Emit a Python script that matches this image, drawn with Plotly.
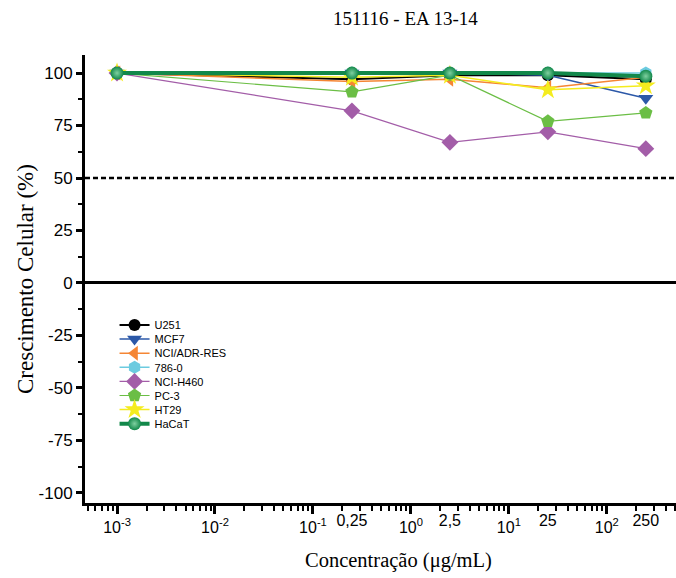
import plotly.graph_objects as go

conc = [0.001, 0.25, 2.5, 25, 250]

series_names = ["U251", "MCF7", "NCI/ADR-RES", "786-0", "NCI-H460", "PC-3", "HT29", "HaCaT"]
u251 = [100, 97, 99, 99, 97]
mcf7 = [100, 100, 100, 99, 88]
nci_adr = [100, 96, 97, 93, 98]
c786 = [100, 100, 100, 100, 100]
nci_h460 = [100, 82, 67, 72, 64]
pc3 = [100, 91, 99, 77, 81]
ht29 = [100, 98, 99, 92, 94]
hacat = [100, 100, 100, 100, 98.5]

major_x_vals = [0.001, 0.01, 0.1, 1, 10, 100]
major_x_text = ["10<sup>-3</sup>", "10<sup>-2</sup>", "10<sup>-1</sup>", "10<sup>0</sup>", "10<sup>1</sup>", "10<sup>2</sup>"]
conc_labels = ["0,25", "2,5", "25", "250"]
conc_label_vals = [0.25, 2.5, 25, 250]
minor_x_vals = [m * d for d in [0.0001, 0.001, 0.01, 0.1, 1, 10, 100] for m in range(2, 10)]

y_tickvals = [100, 75, 50, 25, 0, -25, -50, -75, -100]
y_ticktext = ["100", "75", "50", "25", "0", "-25", "-50", "-75", "-100"]
threshold = 50

values = [u251, mcf7, nci_adr, c786, nci_h460, pc3, ht29, hacat]
colors = ["#000000", "#2B58A8", "#F58634", "#6CCBE0", "#A35DA8", "#6BBE45", "#F4EC1E", "#12884A"]
symbols = ["circle", "triangle-down", "triangle-left", "hexagon", "diamond", "pentagon", "star", "circle"]
widths = [2, 1.5, 1.5, 1.5, 1.2, 1.2, 1.5, 4]
sizes = [12, 13, 13, 13, 13, 14, 15, 13]

x_range = [-3.327, 2.706]

# individual legends to reproduce the tight legend spacing
leg_top_px, leg_step_px, plot_bottom_px, plot_h_px = 325, 14.1, 503, 448

fig = go.Figure()
legend_layout = {}
for i, (name, vals, c, s, w, sz) in enumerate(zip(series_names, values, colors, symbols, widths, sizes)):
    marker = dict(symbol=s, color=c, size=sz, line=dict(width=0))
    if name == "HaCaT":
        marker["gradient"] = dict(type="radial", color="#7fd0a0")
    leg_id = "legend" if i == 0 else f"legend{i + 1}"
    fig.add_trace(go.Scatter(x=conc, y=vals, name=name, mode="lines+markers", legend=leg_id,
                             line=dict(color=c, width=w), marker=marker))
    legend_layout[leg_id] = dict(
        x=0.05, y=(plot_bottom_px - (leg_top_px + i * leg_step_px)) / plot_h_px,
        xanchor="left", yanchor="middle",
        font=dict(family="Liberation Sans, Arial", size=11, color="black"),
        bgcolor="rgba(0,0,0,0)", itemwidth=30)

# invisible trace on xaxis2 for concentration labels
fig.add_trace(go.Scatter(x=conc_label_vals, y=[None] * 4, xaxis="x2", showlegend=False,
                         hoverinfo="skip", mode="markers"))

fig.add_shape(type="line", xref="paper", x0=0, x1=1, yref="y", y0=threshold, y1=threshold,
              line=dict(color="black", width=2.5, dash="5px,3px"))

fig.update_layout(
    width=676, height=578,
    margin=dict(l=85, r=0, t=55, b=75),
    plot_bgcolor="white", paper_bgcolor="white",
    showlegend=True,
    **legend_layout,
    xaxis=dict(type="log", range=x_range, showgrid=False,
               showline=True, linecolor="black", linewidth=3,
               ticks="outside", ticklen=8, tickwidth=2.5, tickcolor="black",
               tickvals=major_x_vals, ticktext=major_x_text,
               tickfont=dict(family="Liberation Sans, Arial", size=16, color="black"),
               minor=dict(tickvals=minor_x_vals, ticks="outside", ticklen=5, tickwidth=2, tickcolor="black", showgrid=False),
               zeroline=False),
    xaxis2=dict(type="log", range=x_range, overlaying="x", anchor="y", side="bottom",
                showgrid=False, showline=False, ticks="", tickvals=conc_label_vals, ticktext=conc_labels,
                tickfont=dict(family="Liberation Sans, Arial", size=16, color="black"), ticklabelstandoff=6),
    yaxis=dict(range=[-104.8, 108.6], showgrid=False,
               showline=True, linecolor="black", linewidth=3,
               ticks="outside", ticklen=6, tickwidth=2.5, tickcolor="black",
               tickvals=y_tickvals, ticktext=y_ticktext,
               tickfont=dict(family="Liberation Sans, Arial", size=17, color="black"),
               minor=dict(dtick=12.5, tick0=0, ticks="outside", ticklen=4, tickwidth=2, tickcolor="black", showgrid=False),
               zeroline=True, zerolinecolor="black", zerolinewidth=3),
    annotations=[
        dict(text="151116 - EA 13-14", xref="paper", yref="paper", x=0.542, y=1, yshift=37,
             xanchor="center", yanchor="middle", showarrow=False,
             font=dict(family="Liberation Serif, Times New Roman", size=19, color="black")),
        dict(text="Crescimento Celular (%)", xref="paper", yref="paper", x=0, xshift=-60, y=0.5,
             xanchor="center", yanchor="middle", textangle=-90, showarrow=False,
             font=dict(family="Liberation Serif, Times New Roman", size=23, color="black")),
        dict(text="Concentração (μg/mL)", xref="paper", yref="paper", x=0.53, y=0, yshift=-57,
             xanchor="center", yanchor="middle", showarrow=False,
             font=dict(family="Liberation Serif, Times New Roman", size=20.5, color="black")),
    ],
)

fig.write_html("out.html")
